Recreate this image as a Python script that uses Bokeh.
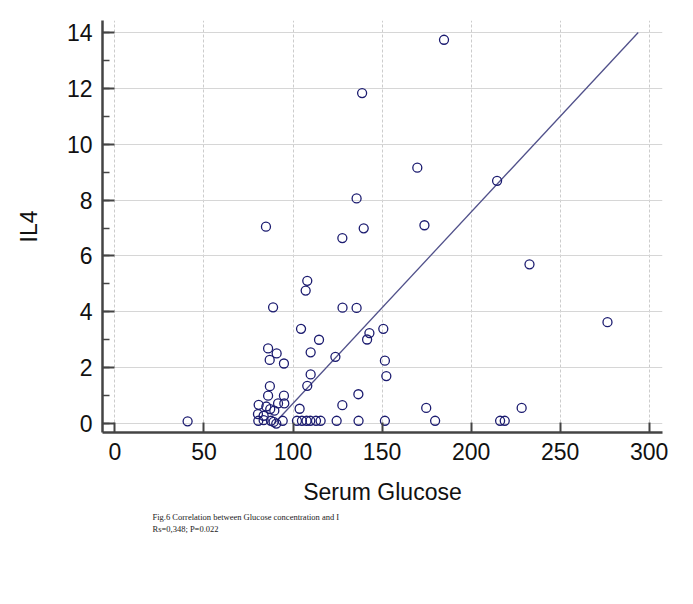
from bokeh.plotting import figure
from bokeh.models import Range1d, SingleIntervalTicker, Title, ColumnDataSource
from bokeh.embed import file_html
from bokeh.resources import INLINE

# Serum glucose (x) and IL4 (y) values
glucose = [40.8, 184.8, 138.8, 169.8, 214.6, 135.7, 84.8, 173.8, 139.7, 127.7,
           232.8, 108.0, 107.1, 88.8, 127.8, 135.7, 276.6, 104.5, 150.7, 142.9,
           141.6, 114.6, 86.0, 90.8, 109.9, 86.9, 94.9, 123.8, 151.6, 152.4,
           109.9, 108.0, 87.0, 86.0, 94.9, 136.7, 80.7, 85.0, 91.6, 95.1,
           127.7, 103.7, 174.8, 228.4, 87.2, 89.5, 80.3, 83.5, 80.5, 83.5,
           87.6, 89.1, 90.6, 94.2, 102.2, 105.0, 107.6, 109.7, 112.9, 115.5,
           124.5, 136.8, 151.6, 179.8, 216.3, 218.9]
il4 = [0.08, 13.74, 11.83, 9.16, 8.69, 8.06, 7.05, 7.10, 6.99, 6.64,
       5.70, 5.11, 4.76, 4.16, 4.15, 4.14, 3.63, 3.39, 3.39, 3.24,
       3.01, 3.00, 2.69, 2.51, 2.55, 2.28, 2.15, 2.39, 2.25, 1.70,
       1.76, 1.35, 1.34, 1.00, 1.00, 1.05, 0.67, 0.61, 0.72, 0.72,
       0.66, 0.53, 0.56, 0.56, 0.52, 0.46, 0.34, 0.28, 0.10, 0.12,
       0.10, 0.06, 0.00, 0.10, 0.10, 0.10, 0.10, 0.10, 0.10, 0.10,
       0.10, 0.10, 0.10, 0.10, 0.10, 0.10]

# Regression line parameters (fitted y = intercept + slope * x), drawn for y in [0, 14]
reg_intercept = -6.13
reg_slope = 0.0685
reg_y_limits = [0.0, 14.0]

x_ticks = [0, 50, 100, 150, 200, 250, 300]
caption_lines = ["Fig.6 Correlation between Glucose concentration and I",
                 "Rs=0,348; P=0.022"]

p = figure(width=685, height=593, frame_width=560, frame_height=412,
           x_range=Range1d(-7, 307.5), y_range=Range1d(-0.32, 14.43),
           output_backend="svg", toolbar_location=None,
           min_border_left=102, min_border_right=23, min_border_top=20,
           min_border_bottom=161)
p.outline_line_color = None
p.background_fill_color = "white"

# grids
p.xaxis.ticker = x_ticks
p.yaxis.ticker = SingleIntervalTicker(interval=2, num_minor_ticks=2)
p.xgrid.grid_line_color = "#cccccc"
p.xgrid.grid_line_dash = "3 2"
p.xgrid.grid_line_width = 1
p.ygrid.grid_line_color = "#d6d6d6"
p.ygrid.grid_line_width = 1

for ax in (p.xaxis, p.yaxis):
    ax.axis_line_color = "#444444"
    ax.axis_line_width = 2.5
    ax.major_tick_line_color = "#444444"
    ax.major_tick_line_width = 2
    ax.minor_tick_line_color = "#444444"
    ax.minor_tick_line_width = 1.5
    ax.major_tick_out = 0
    ax.minor_tick_out = 0
    ax.major_label_text_font = "Liberation Sans"
    ax.major_label_text_font_size = "23px"
    ax.major_label_text_color = "#111111"
    ax.axis_label_text_font = "Liberation Sans"
    ax.axis_label_text_font_size = "23px"
    ax.axis_label_text_font_style = "normal"
    ax.axis_label_text_color = "#111111"

p.xaxis.major_tick_in = 10
p.xaxis.minor_tick_in = 0
p.yaxis.major_tick_in = 12
p.yaxis.minor_tick_in = 7
p.xaxis.major_label_standoff = 10
p.yaxis.major_label_standoff = 10
p.xaxis.axis_label = "Serum Glucose"
p.yaxis.axis_label = "IL4"
p.xaxis.axis_label_standoff = 16
p.yaxis.axis_label_standoff = 22

# regression line
reg_x = [(yv - reg_intercept) / reg_slope for yv in reg_y_limits]
reg_y = [reg_intercept + reg_slope * xv for xv in reg_x]
p.line(reg_x, reg_y, line_color="#50508a", line_width=1.3)

src = ColumnDataSource(dict(x=glucose, y=il4))
p.scatter("x", "y", source=src, marker="circle", size=9,
          fill_color="white", fill_alpha=0.0,
          line_color="#1c1c70", line_width=1.3)

caption = Title(text="\n".join(caption_lines), align="left", offset=50,
                text_font="Liberation Serif", text_font_size="8.5px",
                text_font_style="normal", text_color="#222222",
                text_line_height=1.2, standoff=4)
p.add_layout(caption, "below")

open("out.html", "w").write(file_html(p, INLINE))
